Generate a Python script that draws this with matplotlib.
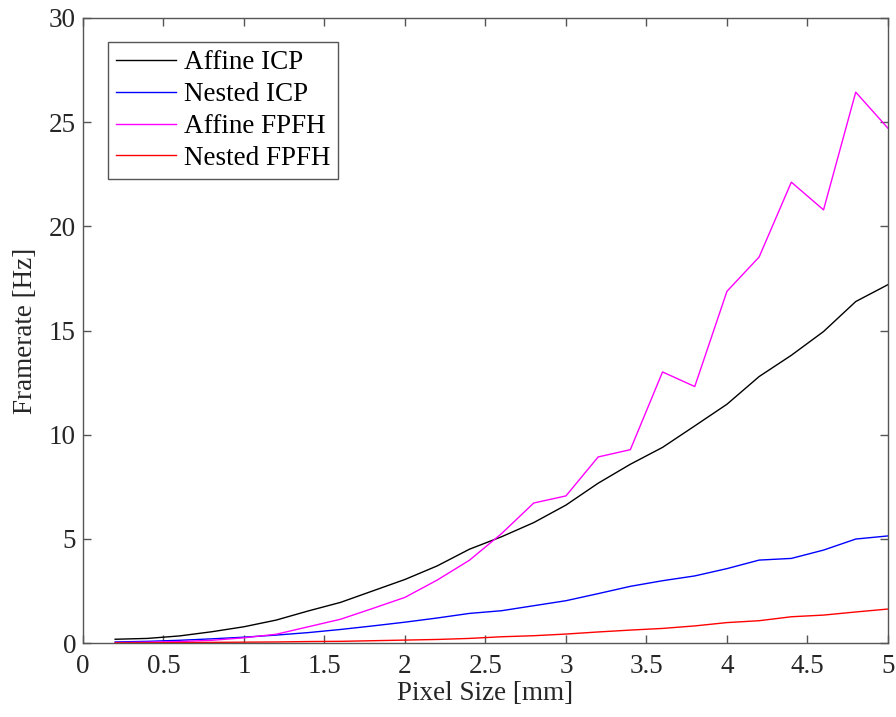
# Framerate vs pixel size for the four registration methods

import matplotlib
matplotlib.use('Agg')
import matplotlib.pyplot as plt
from matplotlib.ticker import MultipleLocator, FuncFormatter

pixel_size = [0.2, 0.4, 0.6, 0.8, 1.0, 1.2, 1.4, 1.6, 1.8, 2.0, 2.2, 2.4, 2.6,
              2.8, 3.0, 3.2, 3.4, 3.6, 3.8, 4.0, 4.2, 4.4, 4.6, 4.8, 5.0]

affine_icp = [0.18, 0.22, 0.34, 0.54, 0.78, 1.1, 1.54, 1.95, 2.5, 3.05, 3.7,
              4.5, 5.1, 5.78, 6.62, 7.67, 8.58, 9.39, 10.42, 11.46, 12.79,
              13.81, 14.95, 16.39, 17.2]
nested_icp = [0.05, 0.08, 0.13, 0.2, 0.28, 0.38, 0.5, 0.65, 0.82, 1.0, 1.2,
              1.42, 1.55, 1.79, 2.03, 2.37, 2.72, 2.99, 3.22, 3.57, 3.98,
              4.06, 4.46, 4.99, 5.14]
affine_fpfh = [0.02, 0.04, 0.07, 0.13, 0.25, 0.42, 0.78, 1.14, 1.66, 2.19,
               3.02, 3.97, 5.25, 6.72, 7.06, 8.93, 9.28, 13.01, 12.31, 16.88,
               18.53, 22.12, 20.79, 26.44, 24.71]
nested_fpfh = [0.01, 0.01, 0.02, 0.03, 0.04, 0.05, 0.07, 0.08, 0.11, 0.14,
               0.17, 0.22, 0.3, 0.35, 0.43, 0.53, 0.62, 0.7, 0.82, 0.98,
               1.07, 1.26, 1.34, 1.49, 1.63]

series = [('Affine ICP', affine_icp, 'black'),
          ('Nested ICP', nested_icp, 'blue'),
          ('Affine FPFH', affine_fpfh, 'magenta'),
          ('Nested FPFH', nested_fpfh, 'red')]


def run():
    plt.rcParams['font.family'] = ['Liberation Serif', 'DejaVu Serif']
    fs = 19.5
    edge = '#555555'
    text = '#262626'

    fig = plt.figure(figsize=(8.96, 7.17), dpi=100)
    ax = fig.add_axes([0.0926, 0.1032, 0.8984, 0.8717])

    for name, values, color in series:
        ax.plot(pixel_size, values, color=color, linewidth=1.0, label=name)

    ax.set_xlim(0, 5)
    ax.set_ylim(0, 30)
    ax.xaxis.set_major_locator(MultipleLocator(0.5))
    ax.yaxis.set_major_locator(MultipleLocator(5))
    ax.xaxis.set_major_formatter(FuncFormatter(lambda v, p: '%g' % v))

    for spine in ax.spines.values():
        spine.set_color(edge)
        spine.set_linewidth(1.0)
    ax.tick_params(which='both', direction='in', top=True, right=True,
                   color=edge, length=6, width=1.0, labelcolor=text,
                   labelsize=fs)
    ax.tick_params(axis='x', pad=8)
    ax.tick_params(axis='y', pad=5)

    ax.set_xlabel('Pixel Size [mm]', color=text, fontsize=fs, labelpad=1)
    ax.set_ylabel('Framerate [Hz]', color=text, fontsize=fs, labelpad=8)

    leg = ax.legend(loc='upper left', bbox_to_anchor=(0.031, 0.961),
                    fontsize=fs, fancybox=False, framealpha=1.0,
                    handlelength=2.2, handletextpad=0.3, borderpad=0.3,
                    labelspacing=0.25, borderaxespad=0)
    leg.get_frame().set_edgecolor(edge)
    leg.get_frame().set_linewidth(1.0)

    fig.savefig('out.png', dpi=100)


if __name__ == '__main__':
    run()
